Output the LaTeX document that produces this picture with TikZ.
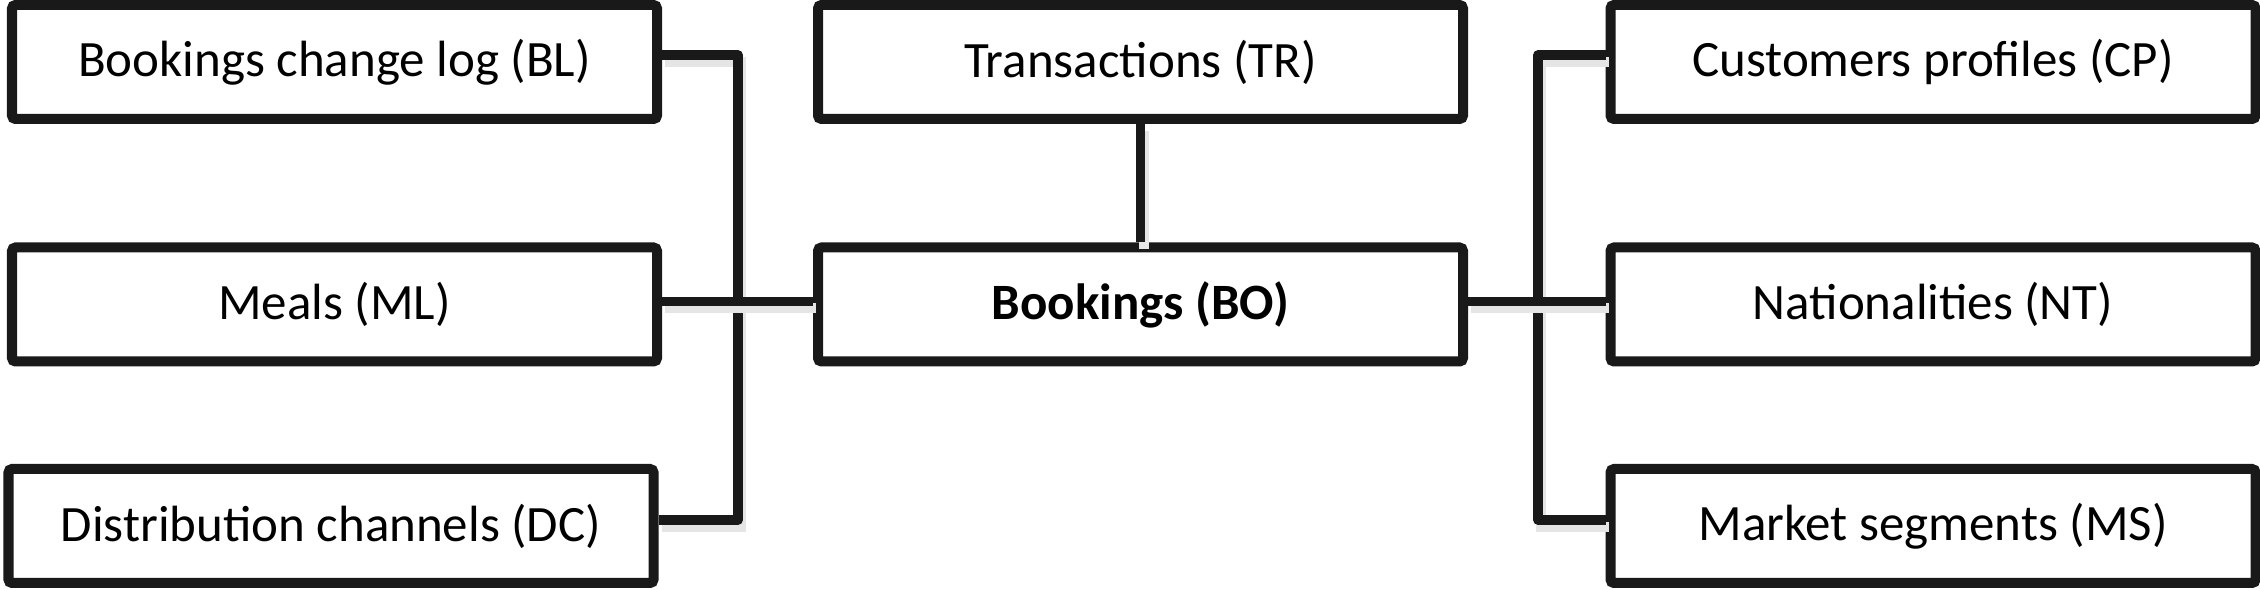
\documentclass[tikz,border=0pt]{standalone}
\usepackage{fontspec}
\setmainfont{Carlito}
\usetikzlibrary{positioning}
\tikzset{
	table/.style = {draw = black!90, line width = 0.1cm, rounded corners = 1pt,
			minimum width = 6.45cm, minimum height = 1.14cm, inner sep = 0pt,
			font = \fontsize{14.5}{17}\selectfont},
	link/.style = {draw = black!90, line width = 0.095cm, line join = round,
			preaction = {draw = black!10, line width = 0.1cm,
					transform canvas = {xshift = 0.3mm, yshift = -0.7mm}}}
}

\begin{document}
\begin{tikzpicture}
	\useasboundingbox (0,0) rectangle (22.6,-5.9);

	% left column
	\node[table] (BL) at (3.345,-0.62) {Bookings change log (BL)};
	\node[table] (ML) at (3.345,-3.045) {Meals (ML)};
	\node[table] (DC) at (3.31,-5.26) {Distribution channels (DC)};

	% middle column
	\node[table] (TR) at (11.405,-0.62) {Transactions (TR)};
	\node[table] (BO) at (11.405,-3.045) {\bfseries Bookings (BO)};

	% right column
	\node[table] (CP) at (19.33,-0.62) {Customers profiles (CP)};
	\node[table] (NT) at (19.33,-3.045) {Nationalities (NT)};
	\node[table] (MS) at (19.33,-5.26) {Market segments (MS)};

	% link ends, a little above the middle of each side
	\coordinate (BLe) at ([yshift=0.7mm]BL.east);
	\coordinate (DCe) at ([yshift=0.6mm]DC.east);
	\coordinate (CPw) at ([yshift=0.7mm]CP.west);
	\coordinate (MSw) at ([yshift=0.6mm]MS.west);
	\coordinate (jl) at (7.38,0);
	\coordinate (jr) at (15.38,0);

	\draw[link] (BLe) -| (jl |- DCe) -- (DCe);
	\draw[link] ([yshift=0.3mm]ML.east) -- ([yshift=0.3mm]BO.west);
	\draw[link] (TR) -- (BO);
	\draw[link] (CPw) -| (jr |- MSw) -- (MSw);
	\draw[link] ([yshift=0.3mm]BO.east) -- ([yshift=0.3mm]NT.west);
\end{tikzpicture}
\end{document}
